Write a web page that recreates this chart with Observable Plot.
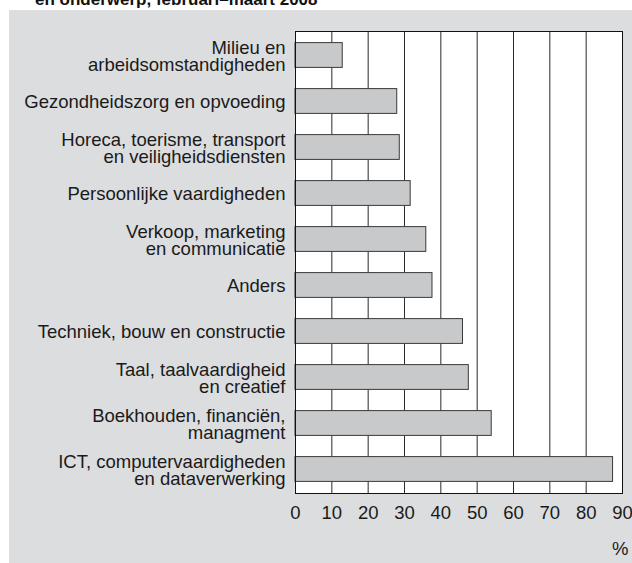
<!DOCTYPE html>
<html><head><meta charset="utf-8">
<script src="https://cdn.jsdelivr.net/npm/d3@7"></script>
<script src="https://cdn.jsdelivr.net/npm/@observablehq/plot@0.6"></script>
<style>
body{margin:0;background:#fff;}
#wrap{position:relative;width:632px;height:563px;overflow:hidden;font-family:"Liberation Sans",Arial,sans-serif;}
#bg{position:absolute;left:9px;top:10px;right:0;bottom:0;background:#dcdddf;}
#title{position:absolute;left:35px;top:-9px;font-size:17px;line-height:17px;font-weight:bold;color:#111;white-space:nowrap;}
#chart{position:absolute;left:0;top:0;}
</style></head><body>
<div id="wrap"><div id="bg"></div><div id="title">en onderwerp, februari–maart 2008</div><div id="chart"></div></div>
<script>
const categories = [
  "Milieu en\narbeidsomstandigheden",
  "Gezondheidszorg en opvoeding",
  "Horeca, toerisme, transport\nen veiligheidsdiensten",
  "Persoonlijke vaardigheden",
  "Verkoop, marketing\nen communicatie",
  "Anders",
  "Techniek, bouw en constructie",
  "Taal, taalvaardigheid\nen creatief",
  "Boekhouden, financiën,\nmanagment",
  "ICT, computervaardigheden\nen dataverwerking"
];
const values = [13.0, 28.0, 28.7, 31.7, 36.0, 37.7, 46.1, 47.7, 54.0, 87.4];
const ticks = [0, 10, 20, 30, 40, 50, 60, 70, 80, 90];
const unitLabel = ["%"];

const rows = categories.map((c, i) => ({category: c, value: values[i]}));

const chart = Plot.plot({
  width: 632, height: 563,
  marginLeft: 295, marginRight: 10, marginTop: 31, marginBottom: 70,
  style: {background: "transparent", fontFamily: "Liberation Sans, Arial, sans-serif", fontSize: "18.5px", color: "#1a1a1a"},
  x: {domain: [0, 90], ticks: ticks, label: null},
  y: {domain: categories, padding: 0, axis: null},
  marks: [
    Plot.frame({fill: "white", stroke: null}),
    Plot.gridX(ticks, {stroke: "#2a2a2a", strokeOpacity: 1, strokeWidth: 1}),
    Plot.barX(rows, {x: "value", y: "category", fill: "#c8c9cb", stroke: "#3a3a3a", strokeWidth: 1, insetTop: 10.6, insetBottom: 10.6}),
    Plot.frame({stroke: "#111", strokeWidth: 1}),
    Plot.axisX(ticks, {tickSize: 0, tickPadding: 12, fontSize: 18.5, label: null, fill: "#1a1a1a"}),
    Plot.text(rows, {y: "category", text: "category", frameAnchor: "left", textAnchor: "end", dx: -10, dy: 1.5, lineHeight: 0.9, fontSize: 18.5, fill: "#1a1a1a"}),
    Plot.text(unitLabel, {frameAnchor: "bottom-right", text: d => d, textAnchor: "end", lineAnchor: "bottom", dx: 6, dy: 61, fontSize: 18.5, fill: "#1a1a1a"})
  ]
});
document.getElementById("chart").appendChild(chart);
</script>
</body></html>
